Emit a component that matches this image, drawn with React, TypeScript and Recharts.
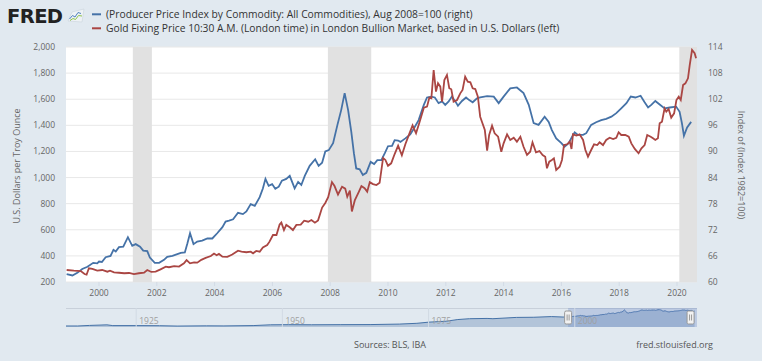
import { ComposedChart, AreaChart, Area, Line, XAxis, YAxis, CartesianGrid, ReferenceArea, ReferenceLine } from "recharts"

const FONT = '"Open Sans", "DejaVu Sans", sans-serif'
const BLUE = "#4572a7"
const RED = "#aa4643"

// Gold fixing price, USD per troy ounce (left axis)
const goldYears = [
  1998.88, 1999.13, 1999.37, 1999.5, 1999.57, 1999.65, 1999.77, 1999.94, 2000.11, 2000.29,
  2000.38, 2000.52, 2000.69, 2000.87, 2001.04, 2001.21, 2001.38, 2001.56, 2001.67, 2001.81,
  2001.96, 2002.13, 2002.31, 2002.42, 2002.6, 2002.77, 2002.94, 2003.03, 2003.15, 2003.29,
  2003.4, 2003.54, 2003.69, 2003.87, 2003.98, 2004.07, 2004.15, 2004.27, 2004.44, 2004.61,
  2004.81, 2004.93, 2005.1, 2005.25, 2005.33, 2005.44, 2005.56, 2005.67, 2005.82, 2005.9,
  2006.02, 2006.14, 2006.25, 2006.31, 2006.4, 2006.48, 2006.6, 2006.71, 2006.83, 2006.98,
  2007.1, 2007.24, 2007.35, 2007.47, 2007.58, 2007.72, 2007.83, 2007.93, 2008.06, 2008.15,
  2008.27, 2008.41, 2008.52, 2008.59, 2008.68, 2008.75, 2008.85, 2008.99, 2009.08, 2009.19,
  2009.28, 2009.37, 2009.48, 2009.6, 2009.71, 2009.83, 2009.91, 2010.0, 2010.11, 2010.23,
  2010.35, 2010.48, 2010.6, 2010.73, 2010.85, 2010.97, 2011.08, 2011.24, 2011.35, 2011.43,
  2011.5, 2011.58, 2011.66, 2011.73, 2011.81, 2011.87, 2011.95, 2012.04, 2012.12, 2012.19,
  2012.27, 2012.39, 2012.5, 2012.58, 2012.67, 2012.76, 2012.85, 2012.93, 2013.02, 2013.11,
  2013.19, 2013.25, 2013.35, 2013.43, 2013.5, 2013.6, 2013.69, 2013.81, 2013.92, 2014.0,
  2014.12, 2014.23, 2014.35, 2014.46, 2014.58, 2014.69, 2014.81, 2014.92, 2015.0, 2015.12,
  2015.24, 2015.35, 2015.44, 2015.5, 2015.58, 2015.67, 2015.74, 2015.82, 2015.94, 2016.02,
  2016.09, 2016.2, 2016.29, 2016.35, 2016.4, 2016.52, 2016.63, 2016.75, 2016.83, 2016.92,
  2017.03, 2017.13, 2017.24, 2017.32, 2017.44, 2017.55, 2017.67, 2017.79, 2017.9, 2017.98,
  2018.07, 2018.21, 2018.33, 2018.42, 2018.54, 2018.67, 2018.77, 2018.88, 2018.97, 2019.09,
  2019.17, 2019.25, 2019.34, 2019.4, 2019.48, 2019.57, 2019.63, 2019.71, 2019.8, 2019.9,
  2019.98, 2020.06, 2020.13, 2020.21, 2020.29, 2020.38, 2020.44, 2020.52, 2020.61, 2020.66,
]
const goldPrices = [
  292, 287, 284, 261, 256, 305, 300, 287, 292, 279,
  287, 274, 271, 267, 269, 261, 267, 271, 292, 277,
  279, 297, 317, 313, 322, 318, 343, 368, 343, 350,
  348, 370, 385, 399, 418, 405, 415, 394, 392, 410,
  440, 432, 428, 432, 420, 438, 432, 465, 483, 509,
  560, 560, 640, 655, 598, 637, 619, 598, 637, 640,
  670, 662, 675, 654, 672, 770, 805, 850, 965, 935,
  870, 930, 915, 853, 900, 740, 825, 890, 935, 918,
  892, 965, 950, 943, 960, 1150, 1135, 1090, 1109, 1180,
  1245, 1170, 1255, 1331, 1400, 1339, 1416, 1535, 1543, 1612,
  1607, 1824, 1658, 1722, 1696, 1581, 1747, 1786, 1684, 1676,
  1581, 1594, 1645, 1671, 1773, 1734, 1729, 1684, 1678, 1619,
  1466, 1428, 1364, 1206, 1326, 1397, 1339, 1313, 1198, 1262,
  1331, 1288, 1305, 1275, 1313, 1236, 1173, 1198, 1270, 1193,
  1203, 1173, 1160, 1071, 1122, 1135, 1147, 1058, 1083, 1135,
  1249, 1255, 1275, 1219, 1331, 1321, 1331, 1288, 1211, 1160,
  1211, 1255, 1249, 1270, 1249, 1288, 1305, 1295, 1305, 1347,
  1326, 1326, 1313, 1262, 1219, 1186, 1224, 1249, 1326, 1313,
  1301, 1288, 1301, 1416, 1428, 1530, 1505, 1525, 1459, 1492,
  1594, 1619, 1594, 1709, 1722, 1760, 1862, 1977, 1952, 1913,
]

// PPI all commodities, Aug 2008 = 100 (right axis)
const ppiYears = [
  1998.88, 1999.08, 1999.25, 1999.42, 1999.6, 1999.8, 1999.94, 2000.0, 2000.1, 2000.23,
  2000.4, 2000.5, 2000.58, 2000.69, 2000.84, 2001.0, 2001.15, 2001.27, 2001.42, 2001.53,
  2001.67, 2001.76, 2001.93, 2002.08, 2002.25, 2002.36, 2002.54, 2002.71, 2002.83, 2002.97,
  2003.06, 2003.15, 2003.27, 2003.4, 2003.57, 2003.75, 2003.92, 2004.09, 2004.27, 2004.38,
  2004.5, 2004.64, 2004.81, 2004.98, 2005.1, 2005.25, 2005.39, 2005.56, 2005.67, 2005.76,
  2005.87, 2005.99, 2006.1, 2006.22, 2006.33, 2006.48, 2006.6, 2006.77, 2006.89, 2007.0,
  2007.12, 2007.29, 2007.48, 2007.6, 2007.72, 2007.83, 2007.95, 2008.1, 2008.25, 2008.38,
  2008.5, 2008.62, 2008.73, 2008.82, 2008.9, 2009.02, 2009.13, 2009.25, 2009.4, 2009.52,
  2009.63, 2009.77, 2009.89, 2010.0, 2010.14, 2010.23, 2010.35, 2010.43, 2010.6, 2010.77,
  2010.89, 2011.06, 2011.24, 2011.35, 2011.5, 2011.62, 2011.75, 2011.87, 2011.98, 2012.1,
  2012.21, 2012.33, 2012.42, 2012.56, 2012.7, 2012.81, 2012.93, 2013.08, 2013.19, 2013.43,
  2013.66, 2013.83, 2014.0, 2014.23, 2014.46, 2014.69, 2014.87, 2015.04, 2015.21, 2015.42,
  2015.56, 2015.67, 2015.82, 2016.0, 2016.11, 2016.25, 2016.37, 2016.46, 2016.57, 2016.75,
  2016.86, 2017.03, 2017.2, 2017.38, 2017.55, 2017.73, 2017.9, 2018.07, 2018.25, 2018.4,
  2018.56, 2018.74, 2018.88, 2019.0, 2019.11, 2019.25, 2019.4, 2019.57, 2019.75, 2019.97,
  2020.09, 2020.17, 2020.24, 2020.35, 2020.49,
]
const ppiIndex = [
  61.8, 61.5, 62.1, 63.0, 63.5, 64.4, 64.3, 64.7, 64.6, 65.7,
  66.0, 67.4, 67.0, 68.0, 68.1, 70.3, 68.3, 68.7, 68.1, 67.2,
  67.1, 65.6, 64.4, 64.4, 65.1, 65.8, 66.0, 66.4, 66.7, 66.8,
  68.9, 71.2, 68.7, 69.3, 69.5, 70.0, 70.0, 71.2, 72.6, 73.9,
  74.1, 74.4, 75.9, 75.6, 76.2, 77.9, 77.5, 79.5, 81.5, 83.7,
  82.1, 82.5, 81.4, 81.9, 83.3, 83.7, 84.4, 81.5, 83.0, 82.3,
  84.4, 86.7, 88.2, 86.7, 87.4, 90.0, 90.3, 91.9, 96.1, 99.5,
  103.4, 99.5, 94.5, 89.6, 86.1, 85.9, 84.6, 85.1, 87.6, 87.1,
  88.0, 88.0, 89.6, 91.2, 91.3, 92.6, 92.5, 92.2, 93.0, 93.9,
  95.2, 97.2, 100.7, 102.4, 102.6, 102.4, 101.1, 101.5, 100.7, 101.5,
  102.6, 101.5, 100.5, 101.6, 102.4, 101.8, 101.3, 102.2, 102.4, 102.7,
  102.6, 101.1, 102.6, 104.5, 104.7, 103.4, 100.7, 96.5, 96.1, 98.0,
  96.8, 94.9, 93.0, 91.9, 91.1, 91.9, 93.4, 94.4, 93.8, 93.8,
  94.2, 96.1, 96.7, 97.2, 97.5, 98.0, 98.8, 99.9, 101.1, 102.6,
  102.4, 102.8, 101.3, 100.1, 100.7, 101.6, 100.8, 99.9, 100.1, 100.3,
  99.1, 96.5, 93.6, 95.5, 96.8,
]

// navigator: earlier PPI history, same rebasing
const navYears = [
  1913, 1915, 1917, 1920, 1921, 1925, 1929, 1932, 1937, 1940,
  1945, 1948, 1951, 1955, 1960, 1965, 1970, 1973, 1975, 1978,
  1980, 1982, 1985, 1986, 1990, 1993, 1996, 1998,
]
const navIndex = [
  6.2, 6.1, 9.5, 13.0, 8.5, 8.5, 7.8, 5.6, 7.0, 6.6,
  8.6, 13.3, 14.0, 13.5, 14.2, 14.7, 17.6, 22.4, 29.3, 35.0,
  45.2, 50.2, 51.9, 50.3, 58.0, 59.0, 63.0, 60.3,
]
const navLabelYears = [1925, 1950, 1975, 2000]

const recessionStarts = [2001.17, 2007.92, 2020.08]
const recessionEnds = [2001.83, 2009.42, 2020.7]

const yearTicks = [2000, 2002, 2004, 2006, 2008, 2010, 2012, 2014, 2016, 2018, 2020]
const goldTicks = [200, 400, 600, 800, 1000, 1200, 1400, 1600, 1800, 2000]
const ppiTicks = [60, 66, 72, 78, 84, 90, 96, 102, 108, 114]

const xDomain = [1998.858, 2020.692]
const selection = [1998.86, 2020.9]

const goldData = goldYears.map((t, i) => ({ t, v: goldPrices[i] }))
const ppiData = ppiYears.map((t, i) => ({ t, v: ppiIndex[i] }))
const navData = [
  ...navYears.map((t, i) => ({ t, v: navIndex[i] })),
  ...ppiData,
]

const tickStyle = { fontSize: 8.5, fill: "#666", fontFamily: FONT }

function Handle(props: any) {
  const { viewBox } = props
  const x = viewBox.x
  const y = viewBox.y + 3
  return (
    <g>
      <rect x={x - 3.5} y={y} width={7} height={13} rx={1.5} fill="#f2f2f2" stroke="#999" strokeWidth={1} />
      <line x1={x - 1} x2={x - 1} y1={y + 3.5} y2={y + 9.5} stroke="#999" strokeWidth={1} />
      <line x1={x + 1} x2={x + 1} y1={y + 3.5} y2={y + 9.5} stroke="#999" strokeWidth={1} />
    </g>
  )
}

function MainChart() {
  return (
    <ComposedChart width={762} height={361} margin={{ top: 47, right: 0, bottom: 59, left: 0 }}>
      <CartesianGrid yAxisId="left" vertical={false} stroke="#e8e8e8" fill="#ffffff" fillOpacity={1} />
      <XAxis
        dataKey="t"
        type="number"
        domain={xDomain}
        allowDataOverflow
        ticks={yearTicks}
        interval={0}
        height={20}
        axisLine={false}
        tickLine={{ stroke: "#d3dbe5" }}
        tickSize={4}
        tickMargin={4}
        tick={tickStyle}
      />
      <YAxis
        yAxisId="left"
        orientation="left"
        width={66}
        domain={[200, 2000]}
        ticks={goldTicks}
        interval={0}
        tickFormatter={(v: number) => v.toLocaleString("en-US")}
        axisLine={false}
        tickLine={false}
        tickSize={0}
        tickMargin={11}
        tick={tickStyle}
      />
      <YAxis
        yAxisId="right"
        orientation="right"
        width={65}
        domain={[60, 114]}
        ticks={ppiTicks}
        interval={0}
        axisLine={false}
        tickLine={false}
        tickSize={0}
        tickMargin={11}
        tick={tickStyle}
      />
      {recessionStarts.map((s, i) => (
        <ReferenceArea
          key={s}
          yAxisId="left"
          x1={s}
          x2={recessionEnds[i]}
          y1={200}
          y2={2000}
          fill="#e1e1e1"
          fillOpacity={1}
          stroke="none"
          ifOverflow="hidden"
        />
      ))}
      <Line
        data={ppiData}
        yAxisId="right"
        dataKey="v"
        type="linear"
        stroke={BLUE}
        strokeWidth={1.8}
        dot={false}
        isAnimationActive={false}
      />
      <Line
        data={goldData}
        yAxisId="left"
        dataKey="v"
        type="linear"
        stroke={RED}
        strokeWidth={1.8}
        dot={false}
        isAnimationActive={false}
      />
    </ComposedChart>
  )
}

function Navigator() {
  return (
    <AreaChart width={631} height={19} data={navData} margin={{ top: 0, right: 0, bottom: 0, left: 0 }}>
      <XAxis dataKey="t" type="number" domain={[1913, 2020.9]} hide />
      <YAxis domain={[0, 115]} hide />
      {navLabelYears.map((y) => (
        <ReferenceLine
          key={y}
          x={y}
          stroke="#d2dae4"
          label={{ value: String(y), position: "insideBottomLeft", offset: 3, fill: "#a0a0a0", fontSize: 8.5 }}
        />
      ))}
      <Area
        dataKey="v"
        type="linear"
        stroke={BLUE}
        strokeWidth={1}
        fill={BLUE}
        fillOpacity={0.3}
        isAnimationActive={false}
      />
      <ReferenceArea x1={selection[0]} x2={selection[1]} fill="#6685c2" fillOpacity={0.3} stroke="none" />
      <ReferenceLine x={selection[0]} stroke="none" label={<Handle />} />
      <ReferenceLine x={2019.8} stroke="none" label={<Handle />} />
    </AreaChart>
  )
}

export default function App() {
  return (
    <div style={{ position: "relative", width: 762, height: 361, background: "#e1e9f0", fontFamily: FONT, overflow: "hidden" }}>
      <style>{"body{margin:0}"}</style>
      <div style={{ position: "absolute", left: 0, top: 0 }}>
        <MainChart />
      </div>
      <div style={{ position: "absolute", left: 66, top: 308, width: 631, borderTop: "1px solid #c8d0da" }} />
      <div style={{ position: "absolute", left: 66, top: 308 }}>
        <Navigator />
      </div>
      <svg width={762} height={361} style={{ position: "absolute", left: 0, top: 0, pointerEvents: "none" }}>
        <text x={7} y={23.3} fontFamily='"DejaVu Sans", sans-serif' fontWeight="bold" fontSize={19.5} fill="#222" letterSpacing={-0.6}>
          FRED
        </text>
        <g>
          <path d="M68 21 L72 12 L84 9 L82 22 Z" fill="#eef2f5" stroke="#c9d3dc" strokeWidth={0.6} />
          <polyline points="69.5,19 72.5,15.5 75,17 78,12.5 81,13.5" fill="none" stroke="#4f81bd" strokeWidth={1} />
          <polyline points="70,20.5 73,18.5 75.5,19.5 78.5,15.5 82,16" fill="none" stroke="#8dc34a" strokeWidth={1} />
        </g>
        <line x1={92} x2={101} y1={14.3} y2={14.3} stroke={BLUE} strokeWidth={2} />
        <text x={106} y={17.7} fontSize={10.3} fill="#333">
          (Producer Price Index by Commodity: All Commodities), Aug 2008=100 (right)
        </text>
        <line x1={92} x2={101} y1={28.3} y2={28.3} stroke={RED} strokeWidth={2} />
        <text x={106} y={31.7} fontSize={10.3} fill="#333">
          Gold Fixing Price 10:30 A.M. (London time) in London Bullion Market, based in U.S. Dollars (left)
        </text>
        <text
          x={16}
          y={166}
          transform="rotate(-90 16 166)"
          textAnchor="middle"
          dominantBaseline="central"
          fontSize={9}
          fill="#666"
        >
          U.S. Dollars per Troy Ounce
        </text>
        <text
          x={741}
          y={165}
          transform="rotate(90 741 165)"
          textAnchor="middle"
          dominantBaseline="central"
          fontSize={9}
          fill="#666"
        >
          Index of (Index 1982=100)
        </text>
        <text x={390} y={348} textAnchor="middle" fontSize={9} fill="#555">
          Sources: BLS, IBA
        </text>
        <text x={713} y={348} textAnchor="end" fontSize={9} fill="#555">
          fred.stlouisfed.org
        </text>
      </svg>
    </div>
  )
}
